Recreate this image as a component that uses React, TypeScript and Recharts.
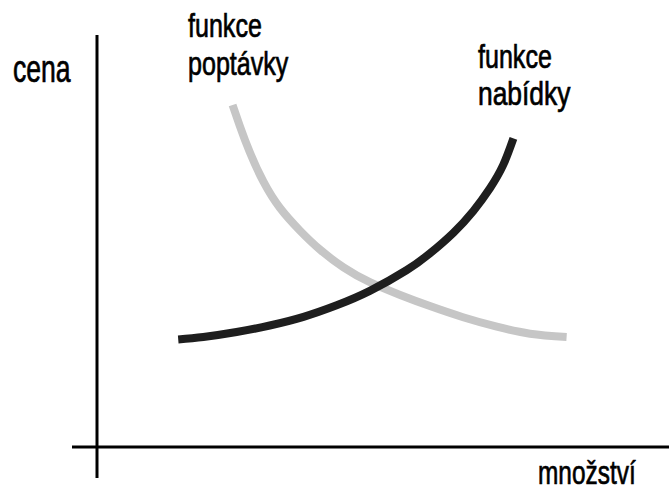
import { LineChart, Line, XAxis, YAxis, ReferenceLine } from 'recharts';

// množství (quantity) vs. cena (price), axis origin = 0
const demand = [
  { q: 23.7, p: 83.0 },
  { q: 25.0, p: 77.8 },
  { q: 26.7, p: 71.6 },
  { q: 29.1, p: 64.4 },
  { q: 32.0, p: 58.0 },
  { q: 35.5, p: 52.5 },
  { q: 39.0, p: 47.9 },
  { q: 43.1, p: 43.6 },
  { q: 47.7, p: 40.0 },
  { q: 53.0, p: 36.9 },
  { q: 58.2, p: 34.2 },
  { q: 64.0, p: 31.5 },
  { q: 69.9, p: 29.2 },
  { q: 75.7, p: 27.5 },
  { q: 82.1, p: 26.7 },
];

const supply = [
  { q: 14.2, p: 26.1 },
  { q: 18.6, p: 26.7 },
  { q: 24.4, p: 27.9 },
  { q: 30.2, p: 29.5 },
  { q: 36.1, p: 31.6 },
  { q: 41.9, p: 34.4 },
  { q: 47.7, p: 37.9 },
  { q: 54.1, p: 42.9 },
  { q: 58.2, p: 47.0 },
  { q: 62.3, p: 52.0 },
  { q: 65.8, p: 57.3 },
  { q: 68.7, p: 62.8 },
  { q: 71.0, p: 68.4 },
  { q: 72.8, p: 74.9 },
];

const labels = [
  { text: 'cena', x: 13, y: 82, size: 38, sx: 0.7 },
  { text: 'funkce', x: 188, y: 37, size: 33, sx: 0.76 },
  { text: 'poptávky', x: 188, y: 75, size: 33, sx: 0.76 },
  { text: 'funkce', x: 478, y: 68, size: 33, sx: 0.76 },
  { text: 'nabídky', x: 478, y: 105, size: 33, sx: 0.8 },
  { text: 'množství', x: 538, y: 484, size: 33, sx: 0.74 },
];

export default function App() {
  return (
    <div style={{ position: 'absolute', left: 0, top: 0, width: 669, height: 493, background: '#fff' }}>
      <LineChart width={669} height={493} margin={{ top: 35, right: 0, bottom: 15, left: 72 }}>
        <XAxis type="number" dataKey="q" domain={[-4.37, 100]} allowDataOverflow hide />
        <YAxis type="number" dataKey="p" domain={[-7.52, 100]} allowDataOverflow hide />
        <ReferenceLine x={0} stroke="#000" strokeWidth={3} />
        <ReferenceLine y={0} stroke="#000" strokeWidth={3} />
        <Line
          data={demand}
          dataKey="p"
          type="natural"
          stroke="#c6c6c6"
          strokeWidth={8}
          dot={false}
          isAnimationActive={false}
        />
        <Line
          data={supply}
          dataKey="p"
          type="natural"
          stroke="#1e1e1e"
          strokeWidth={8}
          dot={false}
          isAnimationActive={false}
        />
      </LineChart>
      <svg width={669} height={493} style={{ position: 'absolute', left: 0, top: 0, pointerEvents: 'none' }}>
        {labels.map((l, i) => (
          <text
            key={i}
            transform={`translate(${l.x},${l.y}) scale(${l.sx},1)`}
            fontFamily="'Liberation Sans', Arial, sans-serif"
            fontSize={l.size}
            fill="#000"
            stroke="#000"
            strokeWidth={0.7}
          >
            {l.text}
          </text>
        ))}
      </svg>
    </div>
  );
}
